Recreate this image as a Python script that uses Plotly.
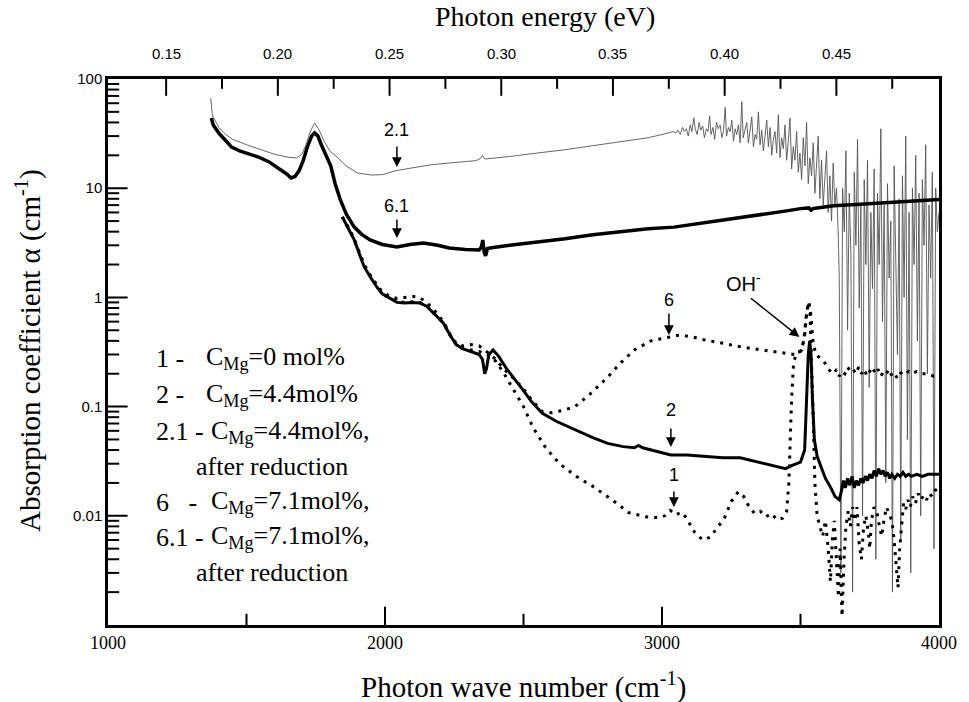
import plotly.graph_objects as go

# ---------------- data ----------------
# curve 2.1 (thin, C_Mg=4.4mol%, after reduction)
c21_w = [1371, 1373, 1376, 1380, 1390, 1400, 1425, 1450, 1500, 1550, 1600, 1650, 1680, 1700, 1715, 1730, 1746,
         1760, 1780, 1800, 1830, 1860, 1900, 1950, 1990, 2040, 2100, 2160, 2220, 2280, 2330, 2345, 2352, 2360,
         2380, 2450, 2550, 2650, 2750, 2850, 2950, 3000, 3040,
         3050, 3058, 3066, 3074, 3080, 3088, 3095, 3102, 3108, 3115, 3120, 3127, 3134, 3140, 3147, 3153, 3160,
         3166, 3172, 3177, 3184, 3190, 3197, 3203, 3210, 3216, 3222, 3228, 3233, 3240, 3246, 3252, 3258, 3264,
         3270, 3276, 3282, 3288, 3293, 3300, 3306, 3312, 3318, 3324, 3330, 3336, 3342, 3348, 3354, 3360, 3366,
         3372, 3378, 3384, 3390, 3396, 3402, 3408, 3414, 3420, 3426, 3432, 3438, 3444, 3450, 3456, 3462, 3468,
         3474, 3480, 3486, 3492, 3498, 3504, 3510, 3516, 3522, 3528, 3534, 3540, 3546, 3552, 3558, 3564, 3570,
         3576, 3582, 3588, 3594, 3600, 3606, 3612, 3618, 3624, 3630, 3636, 3640, 3646,
         3652, 3658, 3664, 3670, 3676, 3682, 3688, 3694, 3700, 3706, 3712, 3718, 3724, 3730, 3736, 3742, 3748,
         3754, 3760, 3766, 3772, 3778, 3784, 3790, 3796, 3802, 3808, 3814, 3820, 3826, 3832, 3838, 3844, 3850,
         3856, 3862, 3868, 3874, 3880, 3886, 3892, 3898, 3904, 3910, 3916, 3922, 3928, 3934, 3940, 3946, 3952,
         3958, 3964, 3970, 3976, 3982, 3988, 3994, 4000]
c21_a = [67, 52, 48, 45, 40, 36, 31, 28, 25, 22.5, 20.5, 19.2, 18.9, 20.5, 25, 33, 39.5,
         35, 27, 22, 19, 16, 13.8, 13.2, 13.3, 14.5, 15.3, 16.3, 16.9, 17.4, 17.9, 18.8, 20, 18.5,
         18.7, 19.5, 21, 22.5, 24.5, 26.5, 29, 31, 33,
         32, 34, 31, 36, 33, 35, 30, 38, 33, 44, 35, 31, 40, 34, 37, 29, 35,
         33, 46, 31, 36, 28, 40, 35, 38, 29, 33, 55, 30, 36, 33, 42, 27, 35,
         31, 38, 26, 62, 29, 34, 40, 26, 33, 45, 24, 31, 28, 50, 25, 34, 22,
         30, 42, 24, 36, 20, 28, 33, 21, 47, 19, 29, 23, 38, 18, 27, 44, 15,
         24, 18, 33, 14, 21, 12, 29, 16, 40, 11, 19, 13, 26, 9, 15, 30, 8,
         18, 7, 12, 22, 6, 13, 5, 17, 7, 10, 4, 1.5, 0.003,
         10, 4, 22, 0.5, 9, 2.5, 0.002, 14, 3, 28, 0.8, 7, 0.01, 12, 2, 18, 0.15,
         6, 1.2, 15, 0.004, 9, 2, 35, 0.6, 7, 0.02, 11, 1.5, 5, 0.002, 16, 3, 0.3,
         8, 0.006, 13, 1, 30, 0.05, 6, 0.003, 10, 2, 20, 0.4, 9, 0.01, 12, 3, 25,
         0.2, 7, 1.5, 14, 0.005, 10, 4, 6]

# curve 6.1 (thick, C_Mg=7.1mol%, after reduction)
c61_w = [1373, 1380, 1400, 1425, 1446, 1475, 1510, 1543, 1580, 1620, 1645, 1661, 1675, 1690, 1705, 1720, 1735,
         1746, 1758, 1770, 1790, 1804, 1820, 1839, 1860, 1889, 1915, 1946, 1990, 2043, 2090, 2139, 2190, 2232,
         2290, 2340, 2348, 2353, 2358, 2363, 2370, 2385, 2450, 2550, 2650, 2750, 2850, 2950, 3043, 3150, 3250,
         3350, 3450, 3500, 3530, 3538, 3545, 3560, 3620, 3700, 3800, 3900, 4000]
c61_a = [44, 38, 32, 27, 23.8, 22, 20.5, 19.3, 17.5, 15, 13.5, 12.4, 12.8, 14.5, 18, 24, 30,
         32, 30, 25, 19, 16, 11, 7.8, 5.8, 4.4, 3.8, 3.36, 3.05, 2.9, 3.05, 3.15, 3.0, 2.83,
         2.75, 2.72, 2.9, 3.35, 2.6, 2.4, 2.8, 2.85, 3.0, 3.2, 3.45, 3.75, 4.0, 4.25, 4.4, 4.8, 5.2,
         5.7, 6.2, 6.5, 6.6, 6.3, 6.5, 6.6, 6.9, 7.1, 7.4, 7.6, 7.9]

# curve 2 (solid, C_Mg=4.4mol%)
c2_w = [1846, 1870, 1889, 1910, 1925, 1950, 1971, 1990, 2018, 2043, 2070, 2100, 2125, 2150, 2180, 2211, 2235,
        2257, 2280, 2310, 2340, 2352, 2360, 2366, 2375, 2390, 2410, 2440, 2471, 2500, 2530, 2568, 2620, 2686,
        2750, 2804, 2860, 2900, 2915, 2930, 2980, 3032, 3090, 3150, 3220, 3282, 3350, 3400, 3446, 3470, 3500,
        3515, 3522, 3528, 3533, 3538, 3543, 3550, 3560, 3575, 3590,
        3605, 3615, 3625, 3632, 3640, 3648, 3655, 3662, 3670, 3678, 3686, 3694, 3702, 3710, 3718, 3726, 3734,
        3742, 3750, 3758, 3766, 3774, 3782, 3790, 3798, 3806, 3814, 3822, 3830, 3840, 3850, 3860, 3870, 3880,
        3890, 3900, 3920, 3940, 3960, 3980, 4000]
c2_a = [5.45, 4.2, 3.36, 2.4, 1.9, 1.5, 1.24, 1.08, 0.98, 0.9, 0.89, 0.9, 0.89, 0.83, 0.7, 0.58, 0.45,
        0.37, 0.34, 0.32, 0.3, 0.27, 0.2, 0.22, 0.3, 0.33, 0.29, 0.22, 0.175, 0.14, 0.11, 0.087, 0.073, 0.061,
        0.052, 0.046, 0.043, 0.042, 0.044, 0.042, 0.039, 0.036, 0.036, 0.035, 0.034, 0.034, 0.031, 0.029, 0.027,
        0.029, 0.031, 0.04, 0.1, 0.3, 0.4, 0.3, 0.12, 0.05, 0.035, 0.028, 0.022,
        0.019, 0.017, 0.015, 0.0145, 0.014, 0.017, 0.021, 0.018, 0.022, 0.019, 0.023, 0.018, 0.021, 0.019,
        0.022, 0.02, 0.023, 0.021, 0.024, 0.022, 0.026, 0.023, 0.027, 0.024, 0.026, 0.023, 0.025, 0.022,
        0.024, 0.022, 0.024, 0.023, 0.025, 0.023, 0.024, 0.023, 0.024, 0.023, 0.024, 0.024, 0.024]

# curve 6 (dotted, C_Mg=7.1mol%)
c6_w = [1846, 1870, 1889, 1910, 1925, 1950, 1971, 1990, 2018, 2043, 2070, 2100, 2125, 2150, 2180, 2211, 2235,
        2257, 2280, 2310, 2340, 2360, 2380, 2400, 2430, 2471, 2500, 2530, 2568, 2600, 2640, 2686, 2740, 2804,
        2850, 2900, 2960, 3020, 3060, 3100, 3150, 3220, 3290, 3360, 3440, 3480, 3505, 3515, 3522, 3530, 3537,
        3545, 3555, 3570, 3585, 3600, 3610, 3620, 3630, 3640, 3650, 3660, 3670, 3680, 3690, 3700, 3710, 3720,
        3730, 3740, 3750, 3760, 3770, 3780, 3790, 3800, 3810, 3820, 3830, 3840, 3850, 3860, 3870, 3880, 3890,
        3900, 3920, 3940, 3960, 3980, 4000]
c6_a = [5.45, 4.3, 3.4, 2.5, 2.0, 1.55, 1.3, 1.12, 1.02, 0.98, 1.0, 1.02, 1.0, 0.9, 0.75, 0.6, 0.46,
        0.38, 0.36, 0.37, 0.36, 0.33, 0.3, 0.27, 0.22, 0.175, 0.145, 0.115, 0.09, 0.088, 0.092, 0.1, 0.13,
        0.186, 0.25, 0.33, 0.4, 0.43, 0.45, 0.44, 0.41, 0.38, 0.35, 0.33, 0.31, 0.3, 0.33, 0.45, 0.7, 0.92,
        0.7, 0.4, 0.3, 0.28, 0.26, 0.22, 0.21, 0.2, 0.22, 0.19, 0.21, 0.2, 0.23, 0.21, 0.22, 0.2, 0.23, 0.2,
        0.22, 0.19, 0.21, 0.23, 0.2, 0.22, 0.19, 0.21, 0.2, 0.22, 0.19, 0.2, 0.18, 0.2, 0.21, 0.2, 0.21,
        0.2, 0.21, 0.2, 0.2, 0.19, 0.19]

# curve 1 (dotted, C_Mg=0 mol%)
c1_w = [1846, 1870, 1889, 1910, 1925, 1950, 1971, 1990, 2018, 2043, 2070, 2100, 2125, 2150, 2180, 2211, 2235,
        2257, 2280, 2310, 2340, 2370, 2400, 2430, 2460, 2500, 2535, 2580, 2630, 2690, 2750, 2820, 2880, 2940,
        2990, 3010, 3030, 3050, 3070, 3090, 3110, 3130, 3150, 3175, 3200, 3225, 3250, 3275, 3295, 3315, 3335,
        3355, 3375, 3395, 3415, 3435, 3450, 3458, 3463, 3468, 3475, 3485, 3500, 3512, 3520, 3528, 3534, 3540,
        3546, 3552, 3560, 3570, 3580, 3590, 3600, 3608, 3615, 3622, 3630, 3637, 3643, 3650, 3657, 3664, 3672,
        3680, 3688, 3696, 3704, 3712, 3720, 3728, 3736, 3745, 3750, 3756, 3765, 3775, 3785, 3793, 3801, 3810,
        3820, 3830, 3838, 3845, 3852, 3858, 3865, 3872, 3880, 3888, 3896, 3905, 3915, 3925, 3935, 3945, 3955,
        3965, 3975, 3985, 4000]
c1_a = [5.45, 4.25, 3.4, 2.45, 1.95, 1.5, 1.25, 1.08, 0.98, 0.92, 0.9, 0.91, 0.9, 0.84, 0.7, 0.58, 0.45,
        0.37, 0.34, 0.33, 0.32, 0.3, 0.26, 0.2, 0.15, 0.1, 0.064, 0.042, 0.03, 0.023, 0.0186, 0.014, 0.0107,
        0.0098, 0.0096, 0.01, 0.0112, 0.0102, 0.0108, 0.0095, 0.0075, 0.0065, 0.006, 0.0064, 0.0078, 0.0095,
        0.0135, 0.0166, 0.015, 0.012, 0.0105, 0.011, 0.0098, 0.0105, 0.0092, 0.0095, 0.011, 0.02, 0.05, 0.12,
        0.25, 0.31, 0.32, 0.4, 0.65, 0.9, 0.75, 0.3, 0.08, 0.02, 0.01, 0.008, 0.0065, 0.009, 0.005, 0.0025,
        0.006, 0.009, 0.004, 0.0018, 0.005, 0.0012, 0.004, 0.008, 0.011, 0.008, 0.012, 0.009, 0.012, 0.0055,
        0.004, 0.008, 0.01, 0.007, 0.005, 0.009, 0.012, 0.011, 0.008, 0.0065, 0.009, 0.012, 0.0105, 0.009,
        0.006, 0.0035, 0.0022, 0.005, 0.009, 0.013, 0.0115, 0.014, 0.012, 0.015, 0.013, 0.016, 0.014, 0.0155,
        0.014, 0.016, 0.015, 0.017, 0.018]

# axis ticks
x_ticks = [1000, 2000, 3000, 4000]
x_minor = [1500, 2500, 3500]
y_ticks = [0.01, 0.1, 1, 10, 100]
y_ticklabels = ["0.01", "0.1", "1", "10", "100"]
y_minor = [m * 10.0 ** e for e in range(-3, 2) for m in range(2, 10)]
e_ticks = [0.15, 0.20, 0.25, 0.30, 0.35, 0.40, 0.45]
e_ticklabels = ["0.15", "0.20", "0.25", "0.30", "0.35", "0.40", "0.45"]
e_minor = [0.175, 0.225, 0.275, 0.325, 0.375, 0.425, 0.475]
EV_PER_CM = 1.23984e-4
X_RANGE = [1000, 4000]
Y_LOG_RANGE = [-3, 2]

legend_nums = ["1 -", "2 -", "2.1 -", "6   -", "6.1 -"]
legend_conc = ["C<sub>Mg</sub>=0 mol%", "C<sub>Mg</sub>=4.4mol%", "C<sub>Mg</sub>=4.4mol%,",
               "C<sub>Mg</sub>=7.1mol%,", "C<sub>Mg</sub>=7.1mol%,"]

SERIF = "Liberation Serif, Times New Roman, serif"
SANS = "Liberation Sans, Arial, sans-serif"

# ---------------- figure ----------------
W, H = 969, 702
ML, MR, MT, MB = 108, 20, 79, 77
PW, PH = W - ML - MR, H - MT - MB


def px(xp, yp):
    return (xp - ML) / PW, (H - MB - yp) / PH


fig = go.Figure()
fig.add_trace(go.Scatter(x=c21_w, y=c21_a, mode="lines", line=dict(color="#555555", width=0.9),
                         hoverinfo="skip"))
fig.add_trace(go.Scatter(x=c1_w, y=c1_a, mode="lines", line=dict(color="black", width=3, dash="3px,6px"),
                         hoverinfo="skip"))
fig.add_trace(go.Scatter(x=c6_w, y=c6_a, mode="lines", line=dict(color="black", width=3, dash="3px,6px"),
                         hoverinfo="skip"))
fig.add_trace(go.Scatter(x=c2_w, y=c2_a, mode="lines", line=dict(color="black", width=3),
                         hoverinfo="skip"))
fig.add_trace(go.Scatter(x=c61_w, y=c61_a, mode="lines", line=dict(color="black", width=3.5),
                         hoverinfo="skip"))

# ---- inside tick marks: line-shaped markers sitting on the frame (outer half clipped) ----
y_bot, y_top = 10.0 ** Y_LOG_RANGE[0], 10.0 ** Y_LOG_RANGE[1]
tick_sets = [
    (x_ticks[1:-1], [y_bot] * len(x_ticks[1:-1]), "line-ns", 26),
    (x_minor, [y_bot] * len(x_minor), "line-ns", 16),
    ([e / EV_PER_CM for e in e_ticks], [y_top] * len(e_ticks), "line-ns", 24),
    ([e / EV_PER_CM for e in e_minor], [y_top] * len(e_minor), "line-ns", 14),
    ([X_RANGE[0]] * len(y_ticks[:-1]), y_ticks[:-1], "line-ew", 28),
    ([X_RANGE[0]] * len(y_minor), y_minor, "line-ew", 16),
]
for xs, ys, sym, size in tick_sets:
    fig.add_trace(go.Scatter(x=xs, y=ys, mode="markers", cliponaxis=True, hoverinfo="skip",
                             marker=dict(symbol=sym, size=size, color="black",
                                         line=dict(width=2, color="black"))))

fig.update_layout(
    width=W, height=H, margin=dict(l=ML, r=MR, t=MT, b=MB),
    plot_bgcolor="white", paper_bgcolor="white", showlegend=False,
    xaxis=dict(range=X_RANGE, tickmode="array", tickvals=x_ticks, ticktext=[str(v) for v in x_ticks],
               ticks="", showline=True, linewidth=2.5, linecolor="black", mirror=True, showgrid=False,
               zeroline=False, tickfont=dict(family=SERIF, size=18, color="black")),
    yaxis=dict(type="log", range=Y_LOG_RANGE, tickmode="array", tickvals=y_ticks, ticktext=y_ticklabels,
               ticks="", showline=True, linewidth=2.5, linecolor="black", mirror=True, showgrid=False,
               zeroline=False, tickfont=dict(family=SANS, size=15, color="black")),
)

ann = []
# top energy-axis labels, placed at the wave number of each energy value
for e, lab in zip(e_ticks, e_ticklabels):
    ann.append(dict(text=lab, x=e / EV_PER_CM, xref="x", y=px(0, 54)[1], yref="paper", showarrow=False,
                    xanchor="center", yanchor="middle", font=dict(family=SANS, size=15, color="black")))
# axis titles
tx, ty = px(550, 17)
ann.append(dict(text="Photon energy (eV)", x=tx, y=ty, xref="paper", yref="paper", showarrow=False,
                xanchor="center", yanchor="middle", font=dict(family=SERIF, size=28, color="black")))
tx, ty = px(528, 685)
ann.append(dict(text="Photon wave number (cm<sup>-1</sup>)", x=tx, y=ty, xref="paper", yref="paper",
                showarrow=False, xanchor="center", yanchor="middle",
                font=dict(family=SERIF, size=29, color="black")))
tx, ty = px(27, 350)
ann.append(dict(text="Absorption coefficient α (cm<sup>-1</sup>)", x=tx, y=ty, xref="paper", yref="paper",
                showarrow=False, textangle=-90, xanchor="center", yanchor="middle",
                font=dict(family=SERIF, size=29, color="black")))

# legend text block
line_y = [358, 395, 432, 502, 537]
conc_x = [205, 205, 210, 210, 210]
for num, conc, ly, cx in zip(legend_nums, legend_conc, line_y, conc_x):
    a, b = px(155, ly)
    ann.append(dict(text=num, x=a, y=b, xref="paper", yref="paper", showarrow=False, xanchor="left",
                    yanchor="middle", font=dict(family=SERIF, size=26, color="black")))
    a, b = px(cx, ly)
    ann.append(dict(text=conc, x=a, y=b, xref="paper", yref="paper", showarrow=False, xanchor="left",
                    yanchor="middle", font=dict(family=SERIF, size=26, color="black")))
for ly in [467, 572]:
    a, b = px(195, ly)
    ann.append(dict(text="after reduction", x=a, y=b, xref="paper", yref="paper", showarrow=False,
                    xanchor="left", yanchor="middle", font=dict(family=SERIF, size=26, color="black")))

# curve labels with arrows (data coordinates; y in log10 for log axis)
labels = [("2.1", 2043, 1.533, 1.194, 22), ("6.1", 2043, 0.837, 0.544, 20), ("6", 3025, -0.024, -0.344, 23),
          ("2", 3032, -1.031, -1.37, 20), ("1", 3043, -1.626, -1.919, 17)]
for t, xw, ly, tip, ay in labels:
    ann.append(dict(text=t, x=xw, y=ly, showarrow=False, font=dict(family=SANS, size=18, color="black")))
    ann.append(dict(text="", x=xw, y=tip, ax=0, ay=-ay, showarrow=True, arrowhead=2, arrowsize=1.3,
                    arrowwidth=1.5, arrowcolor="black", standoff=0))
ann.append(dict(text="OH<sup>-</sup>", x=3293, y=0.141, showarrow=False,
                font=dict(family=SANS, size=20, color="black")))
ann.append(dict(text="", x=3496, y=-0.363, ax=-50, ay=-40, showarrow=True, arrowhead=2, arrowsize=1.3,
                arrowwidth=1.5, arrowcolor="black", standoff=0))

fig.update_layout(annotations=ann)
fig.write_html("out.html")
